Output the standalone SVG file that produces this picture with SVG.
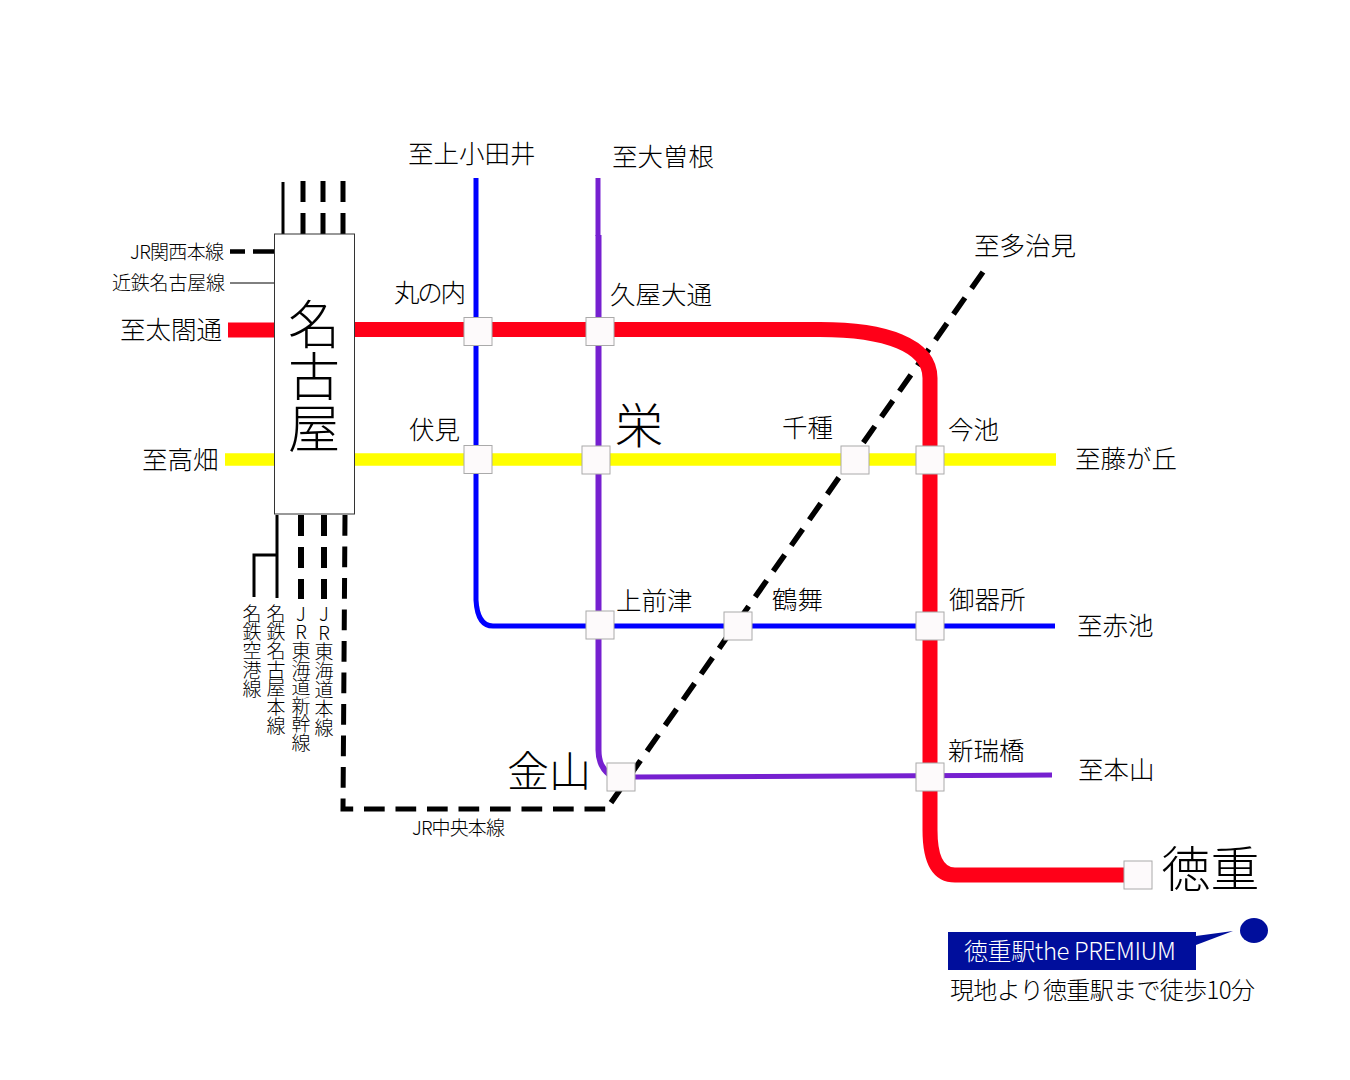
<svg xmlns="http://www.w3.org/2000/svg" width="1350" height="1080" viewBox="0 0 1350 1080">
<style>
text{font-family:"Noto Sans CJK JP","Noto Sans",sans-serif;fill:#000;font-weight:300}
.s{font-size:19px}.m{font-size:25.5px}
.v{font-size:19px;writing-mode:vertical-rl;text-orientation:upright}
.st{fill:#fdfafb;stroke:#aaa;stroke-width:1}
.l{fill:none}
.red{stroke:#ff0018;stroke-width:15}
.yel{stroke:#ffff00;stroke-width:12.5}
.blu{stroke:#0000ff;stroke-width:5}
.pur{stroke:#7620d0;stroke-width:5}
.blk{stroke:#000;stroke-width:3}
.das{stroke:#000;stroke-width:5;stroke-dasharray:21 11}
</style>
<rect width="1350" height="1080" fill="#fff"/>
<g id="connectors">
<path class="l das" style="stroke-width:5.500;stroke-dasharray:20 11.400" d="M983 272L610 804"/>
<path class="l red" d="M228 330H275"/>
<path class="l red" d="M355 329.500H820C885 329.500 930 345 930 378V830C930 860 938 875 955 875H1125"/>
<path class="l yel" d="M225 459.500H275M355 459.500H1056"/>
<path class="l blu" d="M476 178V600C477 618 483 626 493 626H1055"/>
<path class="l pur" d="M598 178V236"/>
<path class="l pur" style="stroke-width:6" d="M598.500 235V750C598.500 762 602 769 610 775"/>
<path class="l pur" d="M634 777L1052 775"/>
<path class="l das" style="stroke-dasharray:20.700 10.800" d="M345 515L343 809H612"/>
<path class="l blk" d="M283 182V234"/>
<path class="l das" d="M303 181V234M323 181V234M343 181V234"/>
<path class="l das" style="stroke-width:4.500;stroke-dasharray:15 8 25" d="M230 251.500H274"/>
<path class="l" stroke="#000" d="M230 283H274"/>
<path class="l blk" d="M277 515V598M277 555H254V597"/>
<path class="l das" style="stroke-width:6" d="M301 515V599M324 515V599"/>
</g>
<g id="nagoya"><rect x="274.500" y="234" width="80" height="280" fill="#fff" stroke="#333"/>
<text x="314" y="298" font-size="52" style="writing-mode:vertical-rl;text-orientation:upright">名古屋</text></g>
<g id="marunouchi"><rect class="st" x="464" y="317.500" width="28" height="28"/><text class="m" x="394" y="302" textLength="72">丸の内</text></g>
<g id="hisaya"><rect class="st" x="586" y="317.500" width="28" height="28"/><text class="m" x="610" y="304">久屋大通</text></g>
<g id="fushimi"><rect class="st" x="464" y="445.500" width="28" height="28"/><text class="m" x="409" y="439">伏見</text></g>
<g id="sakae"><rect class="st" x="582" y="446" width="28" height="28"/><text x="615" y="443" font-size="48">栄</text></g>
<g id="chikusa"><rect class="st" x="841" y="446" width="28" height="28"/><text class="m" x="782" y="437">千種</text></g>
<g id="imaike"><rect class="st" x="916" y="446" width="28" height="28"/><text class="m" x="948" y="439">今池</text></g>
<g id="kamimaezu"><rect class="st" x="586" y="611" width="28" height="28"/><text class="m" x="616" y="610">上前津</text></g>
<g id="tsurumai"><rect class="st" x="724" y="612" width="28" height="28"/><text class="m" x="772" y="609">鶴舞</text></g>
<g id="gokiso"><rect class="st" x="916" y="612" width="28" height="28"/><text class="m" x="949" y="609">御器所</text></g>
<g id="aratama"><rect class="st" x="916" y="763" width="28" height="28"/><text class="m" x="948" y="760">新瑞橋</text></g>
<g id="kanayama"><rect class="st" x="607" y="763" width="28" height="28"/><text x="507" y="787" font-size="42">金山</text></g>
<g id="tokushige"><rect class="st" x="1124" y="861" width="28" height="28"/><text x="1161.500" y="887" font-size="49">徳重</text></g>
<g id="labels">
<text class="m" x="408" y="163">至上小田井</text>
<text class="m" x="612" y="166">至大曽根</text>
<text class="m" x="974" y="255">至多治見</text>
<text class="m" x="120" y="339">至太閤通</text>
<text class="m" x="142" y="469">至高畑</text>
<text class="m" x="1075" y="468">至藤が丘</text>
<text class="m" x="1077" y="635">至赤池</text>
<text class="m" x="1078" y="779">至本山</text>
<text class="s" x="130" y="259" textLength="94">JR関西本線</text>
<text class="s" x="112" y="290" textLength="113">近鉄名古屋線</text>
<text class="s" x="412" y="835" textLength="93">JR中央本線</text>
<text class="v" x="252" y="604" textLength="94">名鉄空港線</text>
<text class="v" x="276" y="604" textLength="131">名鉄名古屋本線</text>
<text class="v" x="301" y="604" textLength="148">JR東海道新幹線</text>
<text class="v" x="324" y="604" textLength="133">JR東海道本線</text>
</g>
<g id="callout">
<rect x="948" y="932" width="248" height="38" fill="#000e9c"/>
<path d="M1196 936L1233 931L1196 945Z" fill="#000e9c"/>
<ellipse cx="1254" cy="930.500" rx="14" ry="12.500" fill="#000e9c"/>
<text x="964" y="960" font-size="24" textLength="212" style="fill:#fff">徳重駅the PREMIUM</text>
<text x="950" y="999" font-size="24" textLength="305">現地より徳重駅まで徒歩10分</text>
</g>
</svg>
